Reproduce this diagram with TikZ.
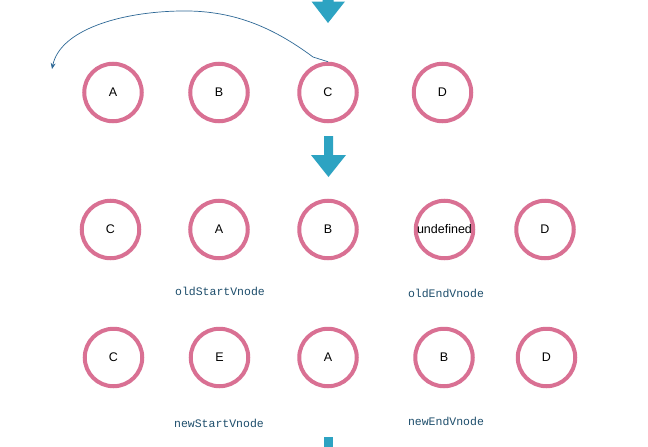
\documentclass[tikz,border=0pt]{standalone}
\usepackage{fontspec}
\setmainfont{Liberation Sans}
\newfontfamily\labelmono{Liberation Mono}
\usetikzlibrary{arrows.meta}
\definecolor{ringpink}{RGB}{217,112,147}
\definecolor{arrowteal}{RGB}{45,163,194}
\definecolor{labelblue}{RGB}{30,78,108}
\definecolor{curveblue}{RGB}{46,104,150}
\tikzset{
  vnode/.style={circle,draw=ringpink,line width=4pt,minimum size=57.5pt,inner sep=0pt,
    font=\fontsize{12.5}{14}\selectfont,text=black},
  ptrlabel/.style={font=\labelmono\fontsize{11.5}{13}\selectfont,text=labelblue,inner sep=0pt},
  bigarrow/.style={fill=arrowteal,draw=none}
}
\begin{document}
\begin{tikzpicture}[x=1pt,y=-1pt]
\useasboundingbox (0,0) rectangle (648,447);
\clip (0,0) rectangle (648,447);
\fill[white] (0,0) rectangle (648,447);
% row 1
\node[vnode] (a1) at (113,92.5) {A};
\node[vnode] (b1) at (219,92.5) {B};
\node[vnode] (c1) at (328,92.5) {C};
\node[vnode] (d1) at (442.5,92.5) {D};
% row 2
\node[vnode] (c2) at (110.5,229.5) {C};
\node[vnode] (a2) at (219,229.5) {A};
\node[vnode] (b2) at (328,229.5) {B};
\node[vnode] (u2) at (444.5,229.5) {undefined};
\node[vnode] (d2) at (545,229.5) {D};
% row 3
\node[vnode] (c3) at (113.5,357.5) {C};
\node[vnode] (e3) at (219.5,357.5) {E};
\node[vnode] (a3) at (328,357.5) {A};
\node[vnode] (b3) at (444,357.5) {B};
\node[vnode] (d3) at (546.5,357.5) {D};
% labels
\node[ptrlabel] (os) at (220,291) {oldStartVnode};
\node[ptrlabel] (oe) at (446,293) {oldEndVnode};
\node[ptrlabel] (ns) at (219,423) {newStartVnode};
\node[ptrlabel] (ne) at (446,421) {newEndVnode};
% big arrows
\fill[bigarrow] (322.5,-5) -- (333.5,-5) -- (333.5,1.5) -- (345,1.5) -- (328,23) -- (311.5,1.5) -- (322.5,1.5) -- cycle;
\fill[bigarrow] (324,136) -- (333,136) -- (333,155) -- (346,155) -- (328.5,177) -- (311,155) -- (324,155) -- cycle;
\fill[bigarrow] (324,437) rectangle (333,452);
% curved arrow
\coordinate (free) at (52,69);
\draw[curveblue,line width=0.7pt,-{Stealth[length=6pt,width=5pt]}]
  (c1.north) -- (313,57) .. controls (270,25) and (230,10) .. (180,11)
  .. controls (120,12) and (60,30) .. (free);
\end{tikzpicture}
\end{document}
